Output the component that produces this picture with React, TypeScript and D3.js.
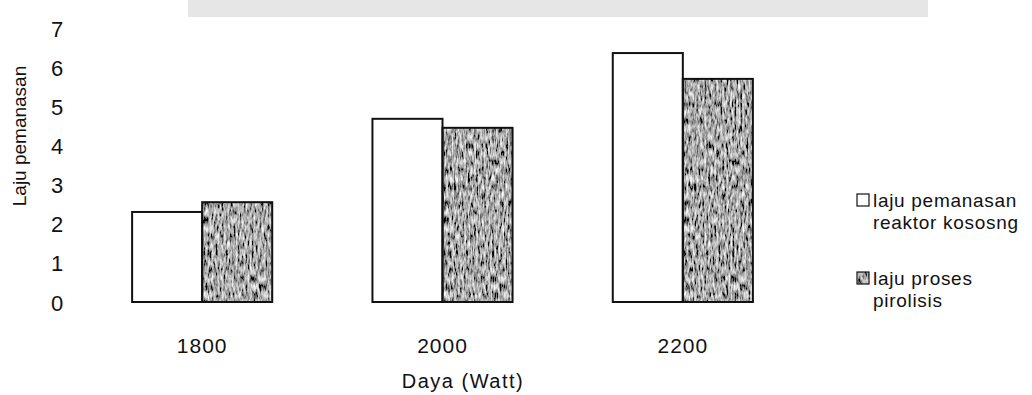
import * as d3 from "d3";
import React, { useEffect, useRef } from "react";

// data
const categories = ["1800", "2000", "2200"];
const lajuPemanasanReaktor = [2.3, 4.68, 6.36];
const lajuProsesPirolisis = [2.55, 4.45, 5.7];
const yTicks = [0, 1, 2, 3, 4, 5, 6, 7];
const seriesKeys = ["reaktor", "pirolisis"];
const legendLines = [
  ["laju pemanasan", "reaktor kososng"],
  ["laju proses", "pirolisis"],
];

const FONT = "'Liberation Sans', Arial, sans-serif";

export default function App() {
  const chartRef = useRef<SVGSVGElement | null>(null);

  useEffect(() => {
    if (!chartRef.current) return;
    const width = 1032;
    const height = 395;

    const svg = d3.select(chartRef.current);
    svg.selectAll("*").remove();

    svg.append("rect").attr("width", width).attr("height", height).attr("fill", "#fff");

    // faint watermark band left over from the scan
    svg
      .append("rect")
      .attr("x", 188)
      .attr("y", 0)
      .attr("width", 740)
      .attr("height", 17)
      .attr("fill", "#e6e6e6");

    // grainy scan texture for the dark bars
    const defs = svg.append("defs");
    const filter = defs
      .append("filter")
      .attr("id", "grain")
      .attr("x", 0)
      .attr("y", 0)
      .attr("width", 1)
      .attr("height", 1);
    filter
      .append("feTurbulence")
      .attr("type", "fractalNoise")
      .attr("baseFrequency", "0.5 0.12")
      .attr("numOctaves", 3)
      .attr("seed", 11)
      .attr("result", "noise");
    filter
      .append("feColorMatrix")
      .attr("in", "noise")
      .attr("type", "matrix")
      .attr("values", "1.7 0 0 0 -0.45  1.7 0 0 0 -0.45  1.7 0 0 0 -0.45  0 0 0 0 1")
      .attr("result", "gray");
    filter
      .append("feComposite")
      .attr("in", "gray")
      .attr("in2", "SourceGraphic")
      .attr("operator", "in");

    const y = d3.scaleLinear().domain([0, 7]).range([302, 28]);

    const x0 = d3
      .scaleBand<string>()
      .domain(categories)
      .range([82, 803])
      .paddingInner(0.417)
      .paddingOuter(0.2085);

    const x1 = d3
      .scaleBand<string>()
      .domain(seriesKeys)
      .range([0, x0.bandwidth()]);

    const data = categories.map((c, i) => ({
      cat: c,
      values: [
        { key: "reaktor", v: lajuPemanasanReaktor[i] },
        { key: "pirolisis", v: lajuProsesPirolisis[i] },
      ],
    }));

    // y tick labels (no axis line in the original)
    svg
      .append("g")
      .selectAll("text")
      .data(yTicks)
      .join("text")
      .attr("x", 57)
      .attr("y", (d) => y(d) + 1)
      .attr("text-anchor", "middle")
      .attr("dominant-baseline", "central")
      .style("font-family", FONT)
      .style("font-size", "22px")
      .attr("fill", "#111")
      .text((d) => d);

    svg
      .append("text")
      .attr("transform", `translate(26, 136) rotate(-90)`)
      .attr("text-anchor", "middle")
      .style("font-family", FONT)
      .style("font-size", "19px")
      .attr("fill", "#111")
      .text("Laju pemanasan");

    // bars
    const groups = svg
      .append("g")
      .selectAll("g")
      .data(data)
      .join("g")
      .attr("transform", (d) => `translate(${x0(d.cat)},0)`);

    groups
      .selectAll("rect.fill")
      .data((d) => d.values)
      .join("rect")
      .attr("class", "fill")
      .attr("x", (d) => x1(d.key)!)
      .attr("y", (d) => y(d.v))
      .attr("width", x1.bandwidth())
      .attr("height", (d) => y(0) - y(d.v))
      .attr("fill", (d) => (d.key === "reaktor" ? "#fff" : "#808080"))
      .attr("filter", (d) => (d.key === "reaktor" ? null : "url(#grain)"));

    groups
      .selectAll("rect.outline")
      .data((d) => d.values)
      .join("rect")
      .attr("class", "outline")
      .attr("x", (d) => x1(d.key)!)
      .attr("y", (d) => y(d.v))
      .attr("width", x1.bandwidth())
      .attr("height", (d) => y(0) - y(d.v))
      .attr("fill", "none")
      .attr("stroke", "#111")
      .attr("stroke-width", 2);

    // category labels
    svg
      .append("g")
      .selectAll("text")
      .data(categories)
      .join("text")
      .attr("x", (d) => x0(d)! + x0.bandwidth() / 2)
      .attr("y", 345)
      .attr("text-anchor", "middle")
      .attr("dominant-baseline", "central")
      .style("font-family", FONT)
      .style("font-size", "21px")
      .style("letter-spacing", "1px")
      .attr("fill", "#111")
      .text((d) => d);

    svg
      .append("text")
      .attr("x", 463)
      .attr("y", 381)
      .attr("text-anchor", "middle")
      .attr("dominant-baseline", "central")
      .style("font-family", FONT)
      .style("font-size", "20px")
      .style("letter-spacing", "1.5px")
      .attr("fill", "#111")
      .text("Daya (Watt)");

    // legend
    const legend = svg.append("g").attr("transform", "translate(857, 0)");
    const legendY = [200, 278];
    const items = legend
      .selectAll("g")
      .data(legendLines)
      .join("g")
      .attr("transform", (_, i) => `translate(0, ${legendY[i]})`);

    items
      .append("rect")
      .attr("x", 0)
      .attr("y", -6)
      .attr("width", 12)
      .attr("height", 12)
      .attr("fill", (_, i) => (i === 0 ? "#fff" : "#707070"))
      .attr("filter", (_, i) => (i === 0 ? null : "url(#grain)"));
    items
      .append("rect")
      .attr("x", 0)
      .attr("y", -6)
      .attr("width", 12)
      .attr("height", 12)
      .attr("fill", "none")
      .attr("stroke", "#111")
      .attr("stroke-width", 1.2);

    items
      .selectAll("text")
      .data((d) => d)
      .join("text")
      .attr("x", 16)
      .attr("y", (_, j) => j * 22)
      .attr("dominant-baseline", "central")
      .style("font-family", FONT)
      .style("font-size", "19px")
      .style("letter-spacing", "0.7px")
      .attr("fill", "#111")
      .text((d) => d);
  }, []);

  return (
    <svg
      ref={chartRef}
      width={1032}
      height={395}
      style={{ position: "absolute", left: 0, top: 0 }}
    ></svg>
  );
}
